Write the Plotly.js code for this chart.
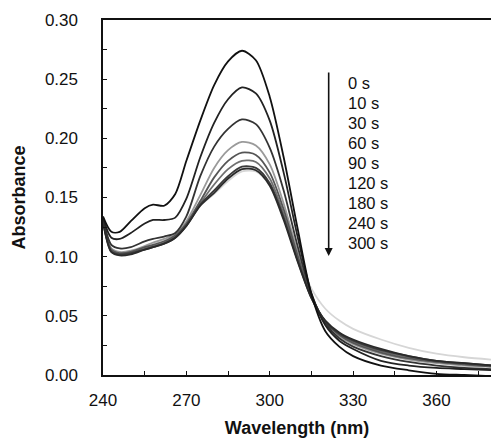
<!DOCTYPE html>
<html>
<head>
<meta charset="utf-8">
<script src="https://cdn.plot.ly/plotly-3.0.1.min.js"></script>
<style>html,body{margin:0;padding:0;background:#fff;}#chart{width:491px;height:438px;}</style>
</head>
<body>
<div id="chart"></div>
<script>
const wavelength = [240,243,246,250,255,258,262,266,270,275,280,285,290,295,300,305,310,315,320,325,330,340,350,360,370,380];
const timeLabels = ["0 s","10 s","30 s","60 s","90 s","120 s","180 s","240 s","300 s"];
const abs0   = [0.134,0.121,0.121,0.130,0.141,0.144,0.143,0.153,0.181,0.215,0.245,0.265,0.274,0.266,0.235,0.184,0.124,0.068,0.037,0.024,0.016,0.008,0.004,0.001,0.000,-0.001];
const abs10  = [0.133,0.116,0.115,0.120,0.128,0.131,0.131,0.133,0.149,0.184,0.213,0.233,0.243,0.238,0.215,0.171,0.117,0.069,0.042,0.029,0.022,0.012,0.008,0.006,0.005,0.004];
const abs30  = [0.132,0.110,0.107,0.108,0.113,0.115,0.117,0.120,0.134,0.168,0.193,0.208,0.216,0.212,0.192,0.156,0.109,0.068,0.044,0.031,0.024,0.016,0.011,0.008,0.006,0.005];
const abs60  = [0.131,0.107,0.104,0.105,0.109,0.112,0.115,0.119,0.130,0.152,0.175,0.190,0.197,0.194,0.178,0.145,0.104,0.067,0.045,0.033,0.026,0.018,0.013,0.010,0.008,0.007];
const abs90  = [0.131,0.106,0.103,0.104,0.108,0.110,0.113,0.118,0.128,0.147,0.167,0.181,0.188,0.186,0.171,0.140,0.101,0.066,0.045,0.034,0.027,0.019,0.014,0.011,0.009,0.007];
const abs120 = [0.130,0.105,0.102,0.103,0.107,0.109,0.112,0.117,0.127,0.145,0.161,0.174,0.181,0.180,0.166,0.136,0.099,0.066,0.045,0.034,0.028,0.020,0.015,0.011,0.009,0.008];
const abs180 = [0.130,0.104,0.102,0.103,0.106,0.108,0.111,0.116,0.126,0.144,0.156,0.168,0.176,0.175,0.162,0.133,0.097,0.065,0.045,0.035,0.029,0.021,0.016,0.012,0.010,0.008];
const abs240 = [0.129,0.104,0.101,0.102,0.106,0.108,0.111,0.116,0.126,0.143,0.154,0.166,0.174,0.173,0.160,0.131,0.096,0.065,0.046,0.036,0.030,0.022,0.016,0.012,0.010,0.008];
const abs300 = [0.129,0.105,0.102,0.104,0.108,0.111,0.114,0.118,0.127,0.143,0.153,0.164,0.172,0.172,0.160,0.133,0.100,0.073,0.056,0.046,0.039,0.030,0.023,0.018,0.015,0.013];
const series = [abs0,abs10,abs30,abs60,abs90,abs120,abs180,abs240,abs300];
const colors = ["#111111","#222222","#333333","#9a9a9a","#555555","#707070","#3a3a3a","#2a2a2a","#d6d6d6"];
const drawOrder = [8,3,5,4,6,7,2,1,0];

const font = "Liberation Sans, Arial, sans-serif";
const traces = drawOrder.map(i => ({
  x: wavelength, y: series[i], type: "scatter", mode: "lines", name: timeLabels[i],
  line: {color: colors[i], width: 1.8, shape: "spline", smoothing: 0.8},
  hoverinfo: "skip"
}));

const annotations = [{
  x: 321.2, y: 0.1005, ax: 321.2, ay: 0.257, xref: "x", yref: "y", axref: "x", ayref: "y",
  showarrow: true, arrowhead: 2, arrowsize: 1, arrowwidth: 1.6, arrowcolor: "#111", text: ""
},{
  x: 396, y: 0.2755, xref: "x", yref: "y", xanchor: "center", yanchor: "middle", showarrow: false,
  text: "PMH82 modified CPO", font: {family: font, size: 16.5, color: "#111"}
}];
timeLabels.forEach((t, k) => {
  annotations.push({
    x: 327.5, y: 0.2467 - k * 0.0169, xref: "x", yref: "y", xanchor: "left", yanchor: "middle",
    showarrow: false, text: t, font: {family: font, size: 16.5, color: "#111"}
  });
});

const layout = {
  width: 491, height: 438,
  margin: {l: 103, r: 0, t: 20, b: 63},
  paper_bgcolor: "#fff", plot_bgcolor: "#fff",
  showlegend: false,
  font: {family: font, size: 17, color: "#111"},
  xaxis: {
    range: [240, 379.6], dtick: 30, tick0: 240, ticks: "inside", ticklen: 4, tickcolor: "#111",
    showline: true, linecolor: "#111", linewidth: 1.6, mirror: true, showgrid: false, zeroline: false,
    minor: {dtick: 15, tick0: 240, ticks: "inside", ticklen: 4, tickcolor: "#111"},
    tickfont: {family: font, size: 17, color: "#111"}, ticklabelstandoff: 9,
    title: {text: "<b>Wavelength (nm)</b>", font: {family: font, size: 18, color: "#111"}, standoff: 13}
  },
  yaxis: {
    range: [0, 0.30], dtick: 0.05, tickformat: ".2f", ticks: "inside", ticklen: 4, tickcolor: "#111",
    showline: true, linecolor: "#111", linewidth: 1.6, showgrid: false, zeroline: false,
    minor: {dtick: 0.025, ticks: "inside", ticklen: 4, tickcolor: "#111"},
    tickfont: {family: font, size: 17, color: "#111"}, ticklabelstandoff: 20,
    title: {text: "<b>Absorbance</b>", font: {family: font, size: 18, color: "#111"}, standoff: 14}
  },
  annotations: annotations
};
Plotly.newPlot("chart", traces, layout, {staticPlot: true, displayModeBar: false});
</script>
</body>
</html>
